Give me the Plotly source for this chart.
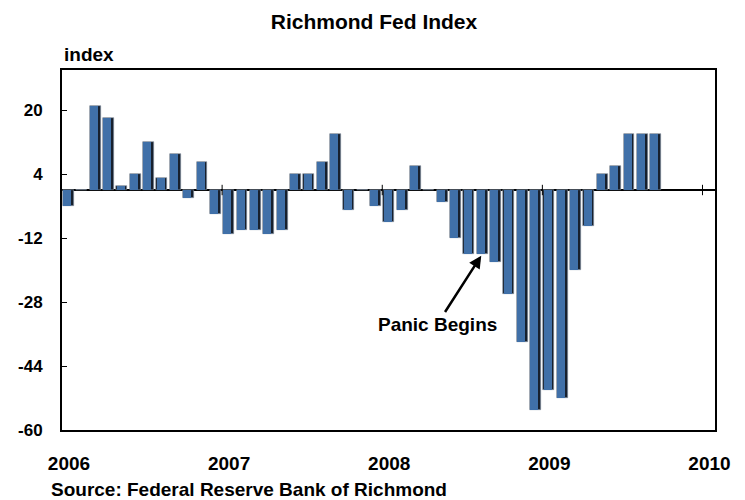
import plotly.graph_objects as go

# ---- data ----
months = [
    "2006-01", "2006-02", "2006-03", "2006-04", "2006-05", "2006-06",
    "2006-07", "2006-08", "2006-09", "2006-10", "2006-11", "2006-12",
    "2007-01", "2007-02", "2007-03", "2007-04", "2007-05", "2007-06",
    "2007-07", "2007-08", "2007-09", "2007-10", "2007-11", "2007-12",
    "2008-01", "2008-02", "2008-03", "2008-04", "2008-05", "2008-06",
    "2008-07", "2008-08", "2008-09", "2008-10", "2008-11", "2008-12",
    "2009-01", "2009-02", "2009-03", "2009-04", "2009-05", "2009-06",
    "2009-07", "2009-08", "2009-09",
]
index_values = [
    -4, 0, 21, 18, 1, 4, 12, 3, 9, -2, 7, -6,
    -11, -10, -10, -11, -10, 4, 4, 7, 14, -5, 0, -4,
    -8, -5, 6, 0, -3, -12, -16, -16, -18, -26, -38, -55,
    -50, -52, -20, -9, 4, 6, 14, 14, 14,
]
year_ticks = [2006, 2007, 2008, 2009, 2010]
year_labels = ["2006", "2007", "2008", "2009", "2010"]
y_ticks = [20, 4, -12, -28, -44, -60]
y_labels = ["20", "4", "-12", "-28", "-44", "-60"]
annot_month = "2008-08"

# month strings -> fractional year at mid-month
def mid_month(s):
    y, m = s.split("-")
    return int(y) + (int(m) - 0.5) / 12.0

xpos = [mid_month(m) for m in months]

FONT = "Liberation Sans, Arial, sans-serif"
MW = 1 / 12.0  # one month in axis units

fig = go.Figure()
# dark side (shadow) of the bars
fig.add_trace(go.Bar(
    x=xpos, y=index_values, width=0.82 * MW, offset=-0.42 * MW,
    marker=dict(color="#17202d", line=dict(width=0.6, color="#8a97a8")),
    hoverinfo="skip", showlegend=False,
))
# front face of the bars
fig.add_trace(go.Bar(
    x=xpos, y=index_values, width=0.6 * MW, offset=-0.40 * MW,
    marker=dict(color="#4070a8", line=dict(width=0)),
    customdata=months, hovertemplate="%{customdata}: %{y}<extra></extra>",
    showlegend=False,
))

# year tick marks crossing the zero line
shapes = []
for yr in year_ticks[1:]:
    shapes.append(dict(type="line", xref="x", yref="y", x0=yr, x1=yr,
                       y0=-1.3, y1=1.3, line=dict(color="#000000", width=1)))

ax_idx = months.index(annot_month)

fig.update_layout(
    width=745, height=500,
    margin=dict(l=62, r=30, t=70, b=70),
    paper_bgcolor="white", plot_bgcolor="white",
    barmode="overlay",
    bargap=0,
    font=dict(family=FONT, color="#000000"),
    title=dict(text="Richmond Fed Index", xref="container", yref="container",
               x=0.502, xanchor="center", y=1 - 22 / 500, yanchor="middle",
               font=dict(family=FONT, size=21, weight="bold", color="#000000")),
    xaxis=dict(
        range=[2006, 2006 + 652.5 / 160],
        tickmode="array", tickvals=year_ticks, ticktext=year_labels,
        ticks="", showgrid=False, zeroline=False,
        showline=True, linecolor="#000000", linewidth=2, mirror=True,
        tickfont=dict(family=FONT, size=19, weight="bold", color="#000000"),
        ticklabelstandoff=15, ticklabelshift=7,
    ),
    yaxis=dict(
        range=[-60, 30],
        tickmode="array", tickvals=y_ticks, ticktext=y_labels,
        ticks="inside", ticklen=5, tickcolor="#000000", tickwidth=1,
        showgrid=False,
        zeroline=True, zerolinecolor="#000000", zerolinewidth=1.5,
        showline=True, linecolor="#000000", linewidth=2, mirror=True,
        tickfont=dict(family=FONT, size=17, weight="bold", color="#000000"),
        ticklabelstandoff=14,
    ),
    shapes=shapes,
    annotations=[
        dict(text="index", xref="paper", yref="paper", x=0, y=1,
             xanchor="left", yanchor="bottom", yshift=3, showarrow=False,
             font=dict(family=FONT, size=19, weight="bold", color="#000000")),
        dict(text="Source: Federal Reserve Bank of Richmond",
             xref="paper", yref="paper", x=-13 / 652.5, y=0,
             xanchor="left", yanchor="middle", yshift=-59, showarrow=False,
             font=dict(family=FONT, size=19, weight="bold", color="#000000")),
        dict(text="Panic Begins", x=xpos[ax_idx], y=index_values[ax_idx],
             xref="x", yref="y", ax=-45, ay=70, showarrow=True,
             arrowhead=2, arrowsize=1, arrowwidth=2.5, arrowcolor="#000000",
             standoff=2,
             font=dict(family=FONT, size=19, weight="bold", color="#000000")),
    ],
)

fig.write_html("out.html")
